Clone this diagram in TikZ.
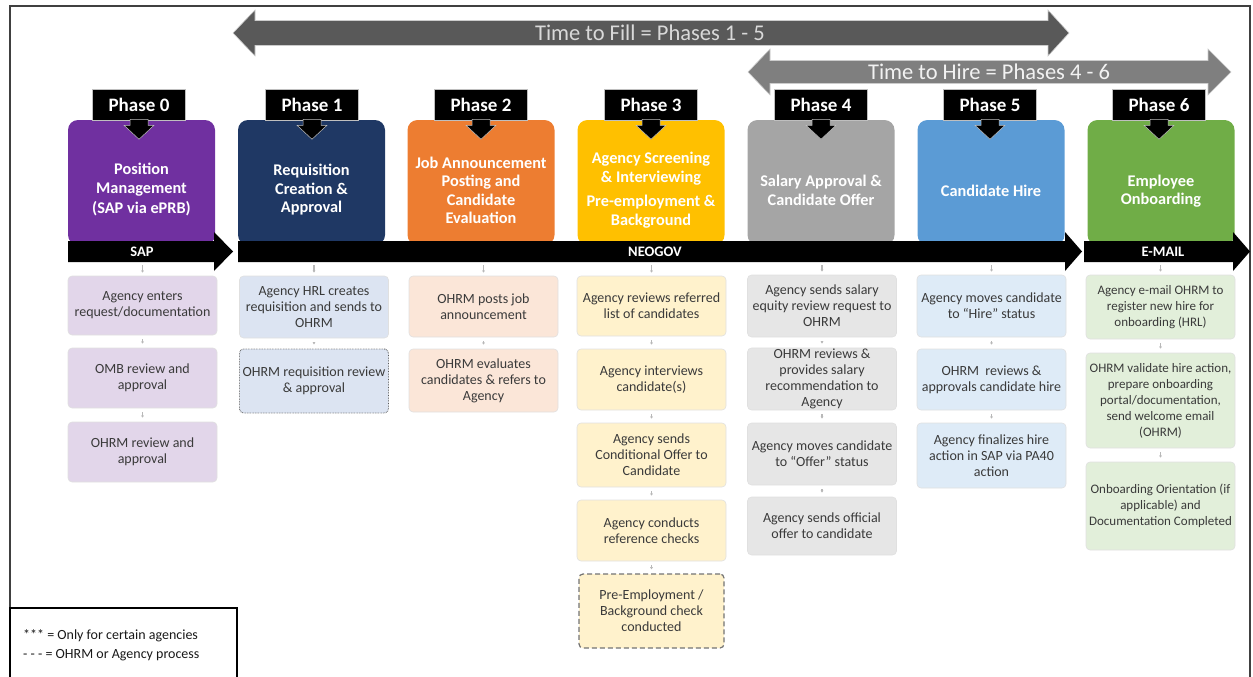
\documentclass[tikz,border=0pt]{standalone}
\usepackage{fontspec}
\setmainfont{Carlito}
\usetikzlibrary{arrows.meta,calc}

% phase colours and their light variants
\definecolor{fillarrow}{HTML}{595959}
\definecolor{hirearrow}{HTML}{7F7F7F}
\definecolor{ph0}{HTML}{7030A0}
\definecolor{ph1}{HTML}{1F3864}
\definecolor{ph2}{HTML}{ED7D31}
\definecolor{ph3}{HTML}{FFC000}
\definecolor{ph4}{HTML}{A5A5A5}
\definecolor{ph5}{HTML}{5B9BD5}
\definecolor{ph6}{HTML}{70AD47}
\definecolor{lt0}{HTML}{E2D6EA}
\definecolor{lt1}{HTML}{DCE4F2}
\definecolor{lt2}{HTML}{FBE6D8}
\definecolor{lt3}{HTML}{FFF2CC}
\definecolor{lt4}{HTML}{E6E6E6}
\definecolor{lt5}{HTML}{DEEBF7}
\definecolor{lt6}{HTML}{E2EFDA}
\definecolor{txt}{HTML}{3A3A3A}

\tikzset{
  frame/.style={draw=black!75, line width=1.6pt},
  timearrow/.style={draw=black!20, line width=0.6pt},
  timetext/.style={font=\fontsize{22.5}{24}\selectfont, inner sep=0pt},
  phlabel/.style={fill=black, draw=black!25, line width=0.5pt, text=white,
    minimum width=93pt, minimum height=31pt, inner sep=0pt,
    font=\fontsize{19}{20}\selectfont\bfseries},
  callout/.style={fill=black, draw=black!25, line width=0.5pt},
  header/.style={rounded corners=10pt, minimum width=147pt, minimum height=125pt,
    inner sep=0pt},
  htext/.style={text=white, align=center, inner sep=0pt,
    font=\fontsize{16.3}{18.5}\selectfont\bfseries},
  bar/.style={fill=black},
  bartext/.style={text=white, inner sep=0pt, font=\fontsize{14.5}{16}\selectfont\bfseries},
  dbox/.style={rounded corners=4pt, minimum width=149pt, inner sep=1pt,
    align=center, text=txt, draw=black!12, line width=0.6pt,
    font=\fontsize{14}{16}\selectfont},
  smalltext/.style={font=\fontsize{13}{16}\selectfont},
  link/.style={draw=black!28, line width=1.3pt, -{Latex[length=2.2pt,width=3.2pt]},
    shorten <=4pt, shorten >=4pt},
}

\begin{document}
\begin{tikzpicture}[x=1pt,y=-1pt]
\useasboundingbox (0,0) rectangle (1253,677);

% outer frame
\draw[frame] (10,700) -- (10,6) -- (1250,6) -- (1250,700);

% time spans
\path[timearrow, fill=fillarrow] (233,33) -- (255,10) -- (255,20.5) -- (1048,20.5)
  -- (1048,10) -- (1069,33) -- (1048,56) -- (1048,45.5) -- (255,45.5) -- (255,56) -- cycle;
\node[timetext, text=black!15] (fill) at (650,33) {Time to Fill = Phases 1 - 5};
\path[timearrow, fill=hirearrow] (748,72) -- (770,49) -- (770,60.5) -- (1208,60.5)
  -- (1208,49) -- (1231,72) -- (1208,95) -- (1208,83.5) -- (770,83.5) -- (770,95) -- cycle;
\node[timetext, text=black!5] (hire) at (989,72) {Time to Hire = Phases 4 - 6};

% phase header boxes
\node[header, fill=ph0] (h0) at (141.5,182.5) {};
\node[header, fill=ph1] (h1) at (311.5,182.5) {};
\node[header, fill=ph2] (h2) at (481,182.5) {};
\node[header, fill=ph3] (h3) at (651,182.5) {};
\node[header, fill=ph4] (h4) at (821,182.5) {};
\node[header, fill=ph5] (h5) at (991,182.5) {};
\node[header, fill=ph6] (h6) at (1161,182.5) {};

\node[htext] (t0) at (141.5,190) {Position\\Management\\[2pt](SAP via ePRB)};
\node[htext] (t1) at (311.5,190) {Requisition\\Creation \&\\Approval};
\node[htext] (t2) at (481,190.5) {Job Announcement\\Posting and\\Candidate\\Evaluation};
\node[htext] (t3) at (651,190) {Agency Screening\\\& Interviewing\\[6pt]Pre-employment \&\\Background};
\node[htext] (t4) at (821,190.5) {Salary Approval \&\\Candidate Offer};
\node[htext] (t5) at (991,191) {Candidate Hire};
\node[htext] (t6) at (1161,191) {Employee\\Onboarding};

% phase labels with their pointers
\foreach \n/\x in {0/139,1/312,2/481,3/651,4/821,5/990,6/1159}{
  \node[phlabel] (p\n) at (\x,104.5) {Phase \n};
  \draw[callout] (p\n.south) ++(-9,-1) -- ++(0,6) -- ++(-6,0) -- ++(15,14)
    -- ++(15,-14) -- ++(-6,0) -- ++(0,-6) -- cycle;
}

% system bars
\path[bar] (68,241) -- (214,241) -- (214,232) -- (233,251.5) -- (214,271) -- (214,262) -- (68,262) -- cycle;
\path[bar] (238,241) -- (1065,241) -- (1065,232) -- (1082,251.5) -- (1065,271) -- (1065,262) -- (238,262) -- cycle;
\path[bar] (1084,241) -- (1233,241) -- (1233,232) -- (1250,251.5) -- (1233,271) -- (1233,262) -- (1084,262) -- cycle;
\node[bartext] (sap) at (142,251.5) {SAP};
\node[bartext] (neogov) at (655,251.5) {NEOGOV};
\node[bartext] (email) at (1163,251.5) {E-MAIL};

% Phase 0 steps
\node[dbox, fill=lt0, minimum height=59pt] (b0a) at (142.5,305.5) {Agency enters\\request/documentation};
\node[dbox, fill=lt0, minimum height=60pt] (b0b) at (142.5,378) {OMB review and\\approval};
\node[dbox, fill=lt0, minimum height=60pt] (b0c) at (142.5,452) {OHRM review and\\approval};

% Phase 1 steps
\node[dbox, fill=lt1, minimum height=62pt] (b1a) at (314,307) {Agency HRL creates\\requisition and sends to\\OHRM};
\node[dbox, fill=lt1, minimum height=64pt, draw=black!65, densely dotted, line width=0.9pt] (b1b) at (314,381) {OHRM requisition review\\\& approval};

% Phase 2 steps
\node[dbox, fill=lt2, minimum height=61pt] (b2a) at (483.5,306.5) {OHRM posts job\\announcement};
\node[dbox, fill=lt2, minimum height=63pt] (b2b) at (483.5,380.5) {OHRM evaluates\\candidates \& refers to\\Agency};

% Phase 3 steps
\node[dbox, fill=lt3, minimum height=60pt] (b3a) at (651.5,306) {Agency reviews referred\\list of candidates};
\node[dbox, fill=lt3, minimum height=61pt] (b3b) at (651.5,379.5) {Agency interviews\\candidate(s)};
\node[dbox, fill=lt3, minimum height=64pt] (b3c) at (651.5,455) {Agency sends\\Conditional Offer to\\Candidate};
\node[dbox, fill=lt3, minimum height=61pt] (b3d) at (651.5,530.5) {Agency conducts\\reference checks};
\node[dbox, fill=lt3, minimum height=74pt, minimum width=145pt, draw=black!55,
  dash pattern=on 5pt off 3pt, line width=1.2pt] (b3e) at (651.5,611) {Pre-Employment /\\Background check\\conducted};

% Phase 4 steps
\node[dbox, fill=lt4, minimum height=62pt] (b4a) at (822,306) {Agency sends salary\\equity review request to\\OHRM};
\node[dbox, fill=lt4, minimum height=62pt] (b4b) at (822,379) {OHRM reviews \&\\provides salary\\recommendation to\\Agency};
\node[dbox, fill=lt4, minimum height=62pt] (b4c) at (822,454) {Agency moves candidate\\to ``Offer'' status};
\node[dbox, fill=lt4, minimum height=58pt] (b4d) at (822,526) {Agency sends official\\offer to candidate};

% Phase 5 steps
\node[dbox, fill=lt5, minimum height=62pt] (b5a) at (991.5,306) {Agency moves candidate\\to ``Hire'' status};
\node[dbox, fill=lt5, minimum height=61pt] (b5b) at (991.5,379.5) {OHRM\ \ reviews \&\\approvals candidate hire};
\node[dbox, fill=lt5, minimum height=65pt] (b5c) at (991.5,455.5) {Agency finalizes hire\\action in SAP via PA40\\action};

% Phase 6 steps
\node[dbox, fill=lt6, minimum height=64pt, smalltext] (b6a) at (1160.5,307) {Agency e-mail OHRM to\\register new hire for\\onboarding (HRL)};
\node[dbox, fill=lt6, minimum height=95pt, smalltext] (b6b) at (1160.5,400.5) {OHRM validate hire action,\\prepare onboarding\\portal/documentation,\\send welcome email\\(OHRM)};
\node[dbox, fill=lt6, minimum height=88pt, smalltext] (b6c) at (1160.5,506) {Onboarding Orientation (if\\applicable) and\\Documentation Completed};

% links from the bars into the first step of each phase
\foreach \n/\x in {0/142.5,1/314,2/483.5,3/651.5,4/822,5/991.5,6/1160.5}{
  \coordinate (s\n) at (\x,263);
  \draw[link, shorten <=2pt, shorten >=3pt] (s\n) -- (b\n a.north);
}

% links between steps
\draw[link] (b0a) -- (b0b);
\draw[link] (b0b) -- (b0c);
\draw[link] (b1a) -- (b1b);
\draw[link] (b2a) -- (b2b);
\draw[link] (b3a) -- (b3b);
\draw[link] (b3b) -- (b3c);
\draw[link] (b3c) -- (b3d);
\draw[link] (b3d) -- (b3e);
\draw[link] (b4a) -- (b4b);
\draw[link] (b4b) -- (b4c);
\draw[link] (b4c) -- (b4d);
\draw[link] (b5a) -- (b5b);
\draw[link] (b5b) -- (b5c);
\draw[link] (b6a) -- (b6b);
\draw[link] (b6b) -- (b6c);

% legend
\draw[draw=black, line width=1.1pt] (10,700) -- (10,608) -- (237,608) -- (237,700);
\node[anchor=west, align=left, inner sep=0pt, text=black!90,
  font=\fontsize{14}{19}\selectfont] (legend) at (23,645.5)
  {*** = Only for certain agencies\\- - - = OHRM or Agency process};
\end{tikzpicture}
\end{document}
